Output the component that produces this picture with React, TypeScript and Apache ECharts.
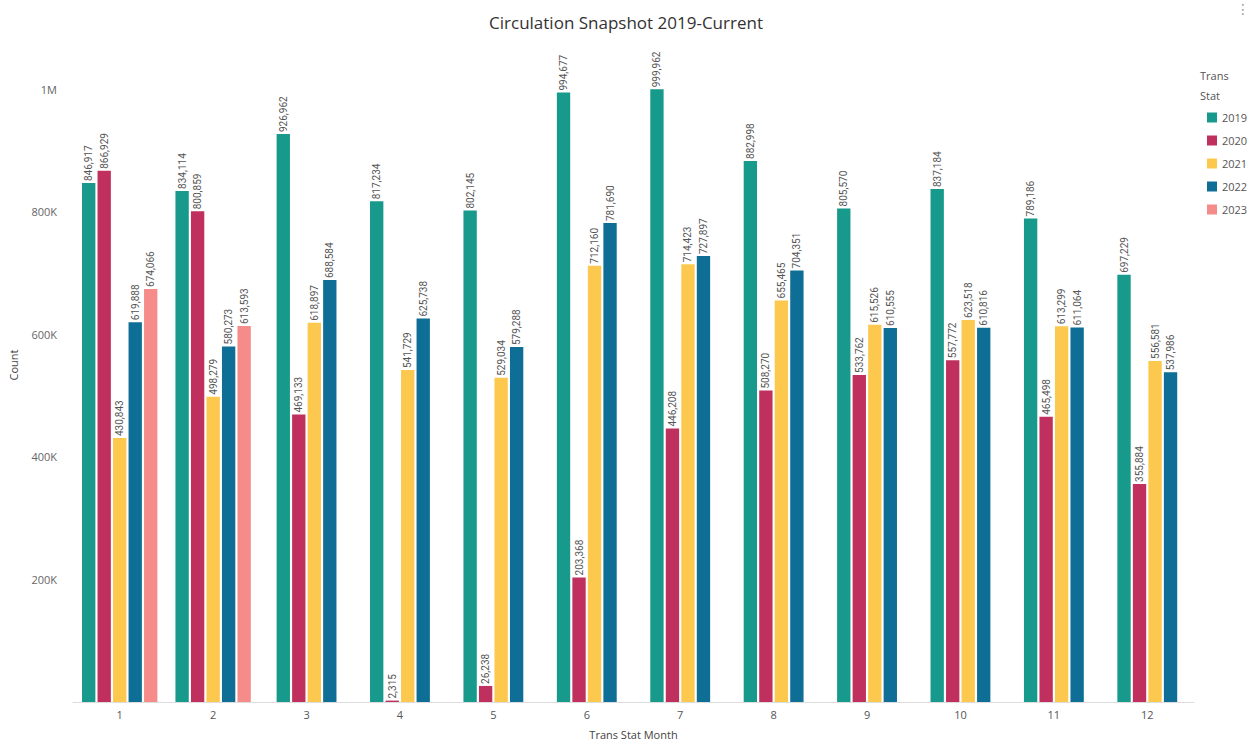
import React, { useEffect, useRef } from "react";
import * as echarts from "echarts";

const months = ["1", "2", "3", "4", "5", "6", "7", "8", "9", "10", "11", "12"];
const years = ["2019", "2020", "2021", "2022", "2023"];
const colors = ["#17998b", "#c0305f", "#fcc84e", "#0e6e95", "#f58c8a"];

const v2019 = [846917, 834114, 926962, 817234, 802145, 994677, 999962, 882998, 805570, 837184, 789186, 697229];
const v2020 = [866929, 800859, 469133, 2315, 26238, 203368, 446208, 508270, 533762, 557772, 465498, 355884];
const v2021 = [430843, 498279, 618897, 541729, 529034, 712160, 714423, 655465, 615526, 623518, 613299, 556581];
const v2022 = [619888, 580273, 688584, 625738, 579288, 781690, 727897, 704351, 610555, 610816, 611064, 537986];
const v2023: (number | null)[] = [674066, 613593, null, null, null, null, null, null, null, null, null, null];

const yTicks = ["0", "200K", "400K", "600K", "800K", "1M"];

const allValues: (number | null)[][] = [v2019, v2020, v2021, v2022, v2023];

const fmt = (n: number) => n.toLocaleString("en-US");

export default function App() {
  const ref = useRef<HTMLDivElement>(null);

  useEffect(() => {
    if (!ref.current) return;
    const chart = echarts.init(ref.current, undefined, { renderer: "svg" });

    const series = years.map((year, si) => ({
      name: year,
      type: "custom" as const,
      itemStyle: { color: colors[si] },
      encode: { x: 0, y: 1 },
      data: allValues[si]
        .map((v, ci) => (v == null ? null : [ci, v]))
        .filter((d) => d !== null),
      renderItem: (params: any, api: any) => {
        const cat = api.value(0);
        const val = api.value(1);
        // bars in a month group are packed around the category centre,
        // leaving no gap for years without data
        const present = allValues
          .map((arr, idx) => (arr[cat] == null ? -1 : idx))
          .filter((idx) => idx >= 0);
        const n = present.length;
        const slot = present.indexOf(si);
        const band = api.size([1, 0])[0];
        const step = band * 0.166;
        const barW = step * 0.86;
        const base = api.coord([cat, 0]);
        const top = api.coord([cat, val]);
        const cx = base[0] + (slot - (n - 1) / 2) * step;
        return {
          type: "group",
          children: [
            {
              type: "rect",
              shape: { x: cx - barW / 2, y: top[1], width: barW, height: base[1] - top[1] },
              style: { fill: colors[si] },
            },
            {
              type: "text",
              x: cx,
              y: top[1] - 2,
              rotation: Math.PI / 2,
              style: {
                text: fmt(val),
                fill: "#555",
                font: "10px Roboto",
                align: "left",
                verticalAlign: "middle",
              },
            },
          ],
        };
      },
    }));

    chart.setOption({
      animation: false,
      backgroundColor: "#fff",
      textStyle: { fontFamily: "Open Sans" },
      title: {
        text: "Circulation Snapshot 2019-Current",
        left: "center",
        top: 9,
        textStyle: { fontFamily: "Open Sans", fontSize: 17, fontWeight: "normal", color: "#333" },
      },
      graphic: [
        { type: "text", left: 1236, top: 2, style: { text: "⋮", fill: "#999", font: "14px DejaVu Sans" } },
        { type: "text", left: 1200, top: 65, style: { text: "Trans\nStat", fill: "#555", font: "11px Open Sans", lineHeight: 20 } },
      ],
      legend: {
        orient: "vertical",
        top: 107,
        left: 1202,
        icon: "rect",
        itemWidth: 10,
        itemHeight: 10,
        itemGap: 12,
        textStyle: { fontFamily: "Open Sans", fontSize: 11, color: "#555" },
        data: years,
      },
      grid: { left: 73, right: 58, top: 28, bottom: 39 },
      xAxis: {
        type: "category",
        data: months,
        name: "Trans Stat Month",
        nameLocation: "middle",
        nameGap: 27,
        nameTextStyle: { fontFamily: "Open Sans", fontSize: 11, color: "#444" },
        axisLine: { lineStyle: { color: "#ddd" } },
        axisTick: { show: false },
        axisLabel: { color: "#555", fontSize: 11, margin: 7 },
      },
      yAxis: {
        type: "value",
        min: 0,
        max: 1100000,
        interval: 200000,
        name: "Count",
        nameLocation: "middle",
        nameGap: 54,
        nameTextStyle: { fontFamily: "Open Sans", fontSize: 11, color: "#444" },
        splitLine: { show: false },
        axisLine: { show: false },
        axisTick: { show: false },
        axisLabel: {
          color: "#666",
          fontSize: 11,
          margin: 16,
          formatter: (v: number) => {
            if (v === 0 || v % 200000 !== 0) return "";
            return yTicks[v / 200000] ?? "";
          },
        },
      },
      series,
    });

    return () => chart.dispose();
  }, []);

  return (
    <div
      ref={ref}
      style={{ position: "absolute", left: 0, top: 0, width: 1252, height: 745 }}
    />
  );
}
